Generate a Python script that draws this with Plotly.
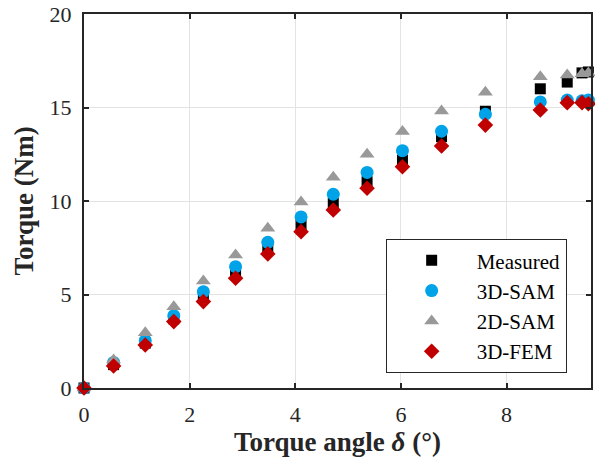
import plotly.graph_objects as go

# Torque angle (deg)
delta = [0, 0.56, 1.16, 1.70, 2.26, 2.87, 3.48, 4.11, 4.72, 5.36, 6.03, 6.77, 7.60, 8.64, 9.15, 9.43, 9.55]
measured = [0, 1.25, 2.40, 3.70, 4.90, 6.20, 7.50, 8.72, 9.88, 11.03, 12.19, 13.44, 14.80, 16.00, 16.36, 16.85, 16.90]
sam3d = [0, 1.37, 2.53, 3.87, 5.15, 6.49, 7.79, 9.15, 10.36, 11.53, 12.69, 13.73, 14.64, 15.30, 15.40, 15.36, 15.40]
sam2d = [0, 1.50, 2.96, 4.35, 5.72, 7.11, 8.54, 9.95, 11.27, 12.50, 13.71, 14.81, 15.81, 16.65, 16.74, 16.80, 16.85]
fem3d = [0, 1.18, 2.30, 3.55, 4.62, 5.87, 7.17, 8.36, 9.52, 10.68, 11.83, 12.94, 14.06, 14.87, 15.26, 15.26, 15.20]

x_ticks = [0, 2, 4, 6, 8]
y_ticks = [0, 5, 10, 15, 20]

FONT = "Liberation Serif, Times New Roman, serif"
AX = "#262626"

fig = go.Figure()
fig.add_trace(go.Scatter(x=delta, y=measured, mode="markers", name="Measured", cliponaxis=False,
                         marker=dict(symbol="square", size=11, color="black")))
fig.add_trace(go.Scatter(x=delta, y=sam3d, mode="markers", name="3D-SAM", cliponaxis=False,
                         marker=dict(symbol="circle", size=13, color="#00A2E8")))
fig.add_trace(go.Scatter(x=delta, y=sam2d, mode="markers", name="2D-SAM", cliponaxis=False,
                         marker=dict(symbol="triangle-up", size=13, color="#999999")))
fig.add_trace(go.Scatter(x=delta, y=fem3d, mode="markers", name="3D-FEM", cliponaxis=False,
                         marker=dict(symbol="diamond", size=12, color="#C00000")))

axis_common = dict(
    showline=True, linecolor=AX, linewidth=2, mirror="ticks",
    ticks="inside", ticklen=5, tickwidth=2, tickcolor=AX,
    showgrid=True, gridcolor="#E3E3E3", gridwidth=1,
    zeroline=False,
    tickfont=dict(family=FONT, size=22, color=AX),
)

fig.update_layout(
    width=595, height=462,
    margin=dict(l=84, r=2, t=14, b=74),
    paper_bgcolor="white", plot_bgcolor="white",
    font=dict(family=FONT, color=AX),
    xaxis=dict(range=[0, 9.6], tickvals=x_ticks, ticktext=[str(v) for v in x_ticks],
               ticklabelstandoff=6,
               title=dict(text="<b>Torque angle <i>δ</i> (°)</b>", font=dict(family=FONT, size=27, color=AX),
                          standoff=6),
               **axis_common),
    yaxis=dict(range=[0, 20], tickvals=y_ticks, ticktext=[str(v) for v in y_ticks],
               ticklabelstandoff=6,
               title=dict(text="<b>Torque (Nm)</b>", font=dict(family=FONT, size=27, color=AX),
                          standoff=8),
               **axis_common),
    legend=dict(x=0.595, y=0.398, xanchor="left", yanchor="top",
                bgcolor="white", bordercolor=AX, borderwidth=1,
                font=dict(family=FONT, size=21, color="black"),
                itemwidth=80, tracegroupgap=0),
    showlegend=True,
)

fig.write_html("out.html", config={"displayModeBar": False},
               post_script="document.body.style.margin='0';")
